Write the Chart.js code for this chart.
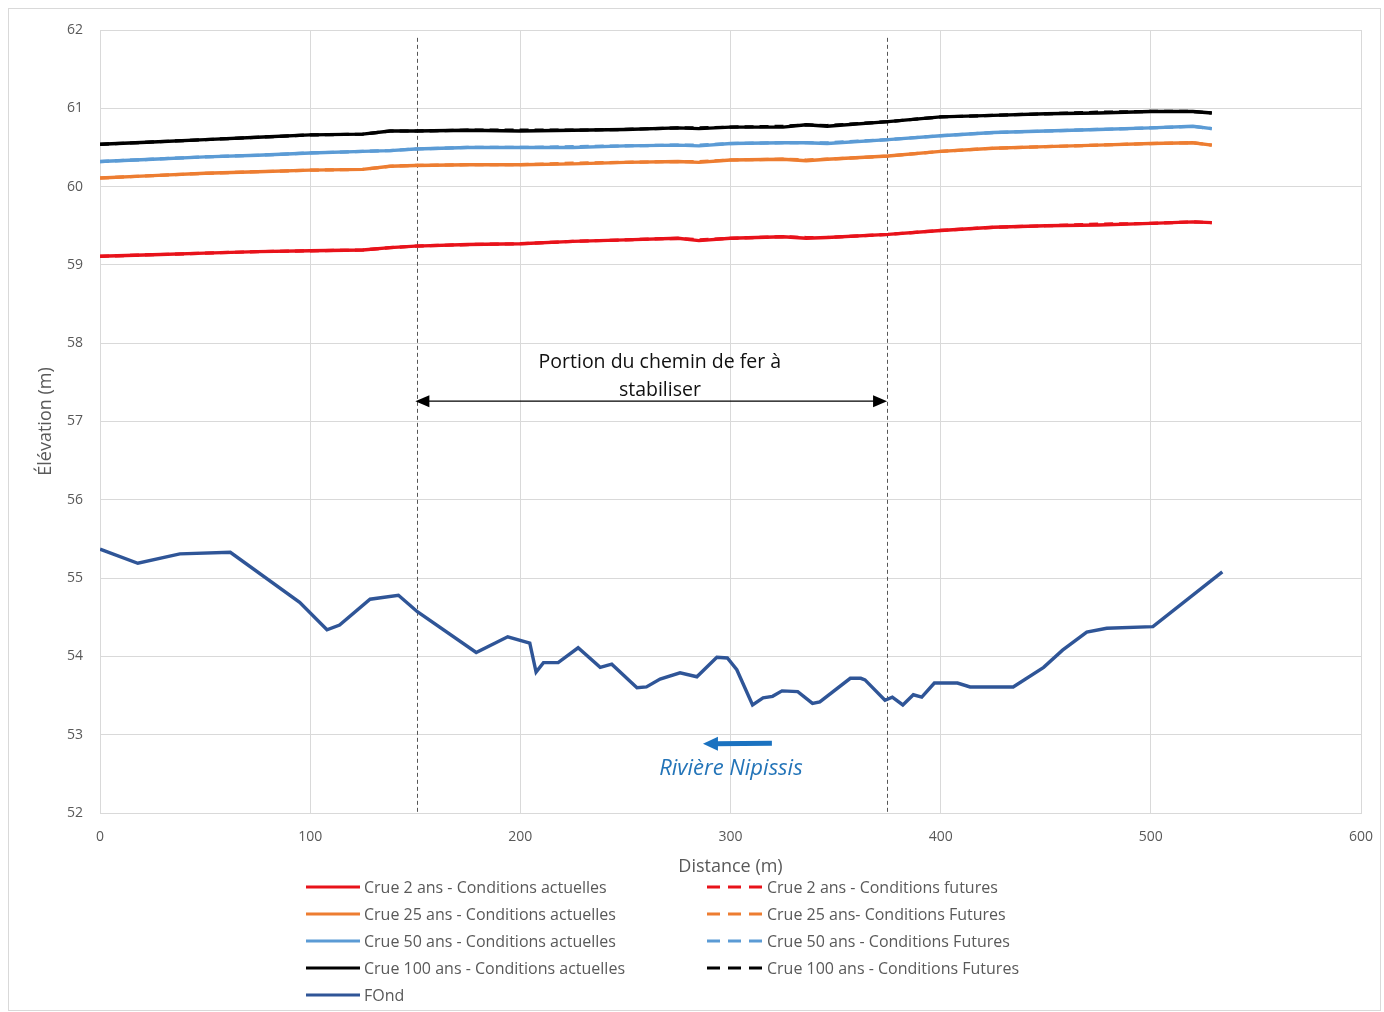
<!DOCTYPE html>
<html><head><meta charset="utf-8">
<script src="https://cdn.jsdelivr.net/npm/chart.js@4/dist/chart.umd.min.js"></script>
<style>
html,body{margin:0;padding:0;background:#fff;}
#wrap{position:relative;width:1384px;height:1012px;overflow:hidden;background:#fff;}
#frame{position:absolute;left:8px;top:8px;width:1373px;height:1003px;border:1px solid #d9d9d9;box-sizing:border-box;}
#c{position:absolute;left:0;top:0;}
.leg{position:absolute;font-family:"Open Sans",sans-serif;font-size:16px;color:#595959;white-space:nowrap;display:flex;align-items:center;height:22px;}
.leg svg{margin-right:4px;display:block;}
</style></head>
<body>
<div id="wrap">
<div id="frame"></div>
<canvas id="c" width="1384" height="1012"></canvas>
<div id="legend"></div>
</div>
<script>
// ---- Data ----
const waterDist = [0, 25, 50, 75, 100, 125, 138, 150, 175, 200, 225, 250, 275, 285, 300, 325, 336, 346, 375, 400, 425, 450, 475, 500, 520, 529];
const crue2Actuel   = [59.11, 59.13, 59.15, 59.17, 59.18, 59.19, 59.22, 59.24, 59.26, 59.27, 59.30, 59.32, 59.34, 59.31, 59.34, 59.36, 59.34, 59.35, 59.39, 59.44, 59.48, 59.50, 59.51, 59.53, 59.55, 59.54];
const crue2Futur    = [59.11, 59.13, 59.15, 59.17, 59.18, 59.19, 59.22, 59.24, 59.26, 59.27, 59.30, 59.32, 59.34, 59.32, 59.34, 59.36, 59.35, 59.35, 59.39, 59.44, 59.48, 59.50, 59.52, 59.53, 59.55, 59.54];
const crue25Actuel  = [60.11, 60.14, 60.17, 60.19, 60.21, 60.22, 60.26, 60.27, 60.28, 60.28, 60.29, 60.31, 60.32, 60.31, 60.34, 60.35, 60.33, 60.35, 60.39, 60.45, 60.49, 60.51, 60.53, 60.55, 60.56, 60.53];
const crue25Futur   = [60.11, 60.14, 60.17, 60.19, 60.21, 60.22, 60.26, 60.27, 60.28, 60.28, 60.30, 60.31, 60.32, 60.32, 60.34, 60.35, 60.34, 60.35, 60.39, 60.45, 60.49, 60.51, 60.53, 60.55, 60.56, 60.53];
const crue50Actuel  = [60.32, 60.35, 60.38, 60.40, 60.43, 60.45, 60.46, 60.48, 60.50, 60.50, 60.50, 60.52, 60.53, 60.52, 60.55, 60.56, 60.56, 60.55, 60.60, 60.65, 60.69, 60.71, 60.73, 60.75, 60.77, 60.74];
const crue50Futur   = [60.32, 60.35, 60.38, 60.40, 60.43, 60.45, 60.46, 60.48, 60.50, 60.50, 60.51, 60.52, 60.53, 60.53, 60.55, 60.56, 60.56, 60.56, 60.60, 60.65, 60.69, 60.71, 60.73, 60.75, 60.77, 60.74];
const crue100Actuel = [60.54, 60.57, 60.60, 60.63, 60.66, 60.67, 60.71, 60.71, 60.72, 60.71, 60.72, 60.73, 60.75, 60.74, 60.76, 60.76, 60.79, 60.77, 60.83, 60.89, 60.91, 60.93, 60.94, 60.96, 60.96, 60.94];
const crue100Futur  = [60.54, 60.57, 60.60, 60.63, 60.66, 60.67, 60.71, 60.71, 60.72, 60.72, 60.72, 60.73, 60.75, 60.75, 60.76, 60.77, 60.79, 60.78, 60.83, 60.89, 60.91, 60.93, 60.95, 60.96, 60.96, 60.94];

const fondDist = [0, 18, 38, 62, 95, 108, 114, 128.5, 142, 151, 179, 194, 204.5, 207.5, 211, 218, 227.5, 238, 243.5, 255.5, 260, 266.5, 276, 284, 293.5, 298.5, 303, 310.5, 315.5, 320, 324.5, 332, 339, 342.5, 357, 362, 364, 373.5, 377, 382, 387, 391, 397, 403.5, 408, 414, 434.5, 449, 458, 469.5, 479, 501, 534];
const fondElev = [55.37, 55.19, 55.31, 55.33, 54.69, 54.34, 54.40, 54.73, 54.78, 54.57, 54.05, 54.25, 54.17, 53.80, 53.92, 53.92, 54.11, 53.86, 53.90, 53.60, 53.61, 53.71, 53.79, 53.74, 53.99, 53.98, 53.83, 53.38, 53.47, 53.49, 53.56, 53.55, 53.40, 53.42, 53.72, 53.72, 53.70, 53.44, 53.48, 53.38, 53.51, 53.48, 53.66, 53.66, 53.66, 53.61, 53.61, 53.86, 54.08, 54.31, 54.36, 54.38, 55.08];

const xTicks = [0, 100, 200, 300, 400, 500, 600];
const yTicks = [52, 53, 54, 55, 56, 57, 58, 59, 60, 61, 62];

const seriesLabels = {
  c2a: "Crue 2 ans - Conditions actuelles",
  c25a: "Crue 25 ans - Conditions actuelles",
  c50a: "Crue 50 ans - Conditions actuelles",
  c100a: "Crue 100 ans - Conditions actuelles",
  fond: "FOnd",
  c2f: "Crue 2 ans - Conditions futures",
  c25f: "Crue 25 ans- Conditions Futures",
  c50f: "Crue 50 ans - Conditions Futures",
  c100f: "Crue 100 ans - Conditions Futures"
};

// Annotations (data coordinates)
const zoneBounds = [151, 374.5];
const zoneTop = 61.9;
const zoneArrowY = 57.26;
const zoneLabel = ["Portion du chemin de fer à", "stabiliser"];
const zoneLabelPos = {x: 266.4, y: [57.76, 57.40]};
const riverLabel = "Rivière Nipissis";
const riverArrow = {from: 319.7, to: 286.9, y: 52.89};
const riverLabelPos = {x: 300.2, y: 52.56};

// ---- Styles ----
const RED = '#e8121a', ORANGE = '#ed7d31', BLUE = '#5b9bd5', BLACK = '#000000', FOND = '#2f5597';
const GRAY = '#595959';

function pts(xs, ys){ return xs.map((x,i)=>({x:x, y:ys[i]})); }

function ds(key, xs, ys, color, dashed){
  return {label: seriesLabels[key], data: pts(xs, ys), borderColor: color, backgroundColor: color,
    borderWidth: dashed ? 3.2 : 3.4, pointRadius: 0, tension: 0, borderDash: dashed ? [9,6] : [], fill:false, _dashed: !!dashed};
}

const datasets = [
  ds('c2a', waterDist, crue2Actuel, RED, false),
  ds('c25a', waterDist, crue25Actuel, ORANGE, false),
  ds('c50a', waterDist, crue50Actuel, BLUE, false),
  ds('c100a', waterDist, crue100Actuel, BLACK, false),
  ds('c2f', waterDist, crue2Futur, RED, true),
  ds('c25f', waterDist, crue25Futur, ORANGE, true),
  ds('c50f', waterDist, crue50Futur, BLUE, true),
  ds('c100f', waterDist, crue100Futur, BLACK, true),
  ds('fond', fondDist, fondElev, FOND, false)
];

function arrowHead(ctx, tipX, tipY, dir, len, half){
  ctx.beginPath();
  ctx.moveTo(tipX, tipY);
  ctx.lineTo(tipX - dir*len, tipY - half);
  ctx.lineTo(tipX - dir*len, tipY + half);
  ctx.closePath();
  ctx.fill();
}

const annotPlugin = {
  id: 'annot',
  beforeDatasetsDraw(chart){
    const {ctx, scales:{x, y}} = chart;
    ctx.save();
    ctx.strokeStyle = '#555555'; ctx.lineWidth = 1; ctx.setLineDash([4,3]);
    for (const d of zoneBounds){
      const px = Math.round(x.getPixelForValue(d)) + 0.5;
      ctx.beginPath(); ctx.moveTo(px, y.getPixelForValue(zoneTop)); ctx.lineTo(px, y.getPixelForValue(52)); ctx.stroke();
    }
    ctx.restore();
  },
  afterDatasetsDraw(chart){
    const {ctx, scales:{x, y}} = chart;
    ctx.save();
    // double arrow
    const ay = y.getPixelForValue(zoneArrowY);
    const ax1 = x.getPixelForValue(zoneBounds[0]) - 2, ax2 = x.getPixelForValue(zoneBounds[1]);
    ctx.strokeStyle = '#000'; ctx.fillStyle = '#000'; ctx.lineWidth = 1.4;
    ctx.beginPath(); ctx.moveTo(ax1 + 10, ay); ctx.lineTo(ax2 - 10, ay); ctx.stroke();
    arrowHead(ctx, ax1, ay, -1, 14, 6);
    arrowHead(ctx, ax2, ay, 1, 14, 6);
    // zone label
    ctx.font = '19.5px "Open Sans"'; ctx.fillStyle = '#111111'; ctx.textAlign = 'center'; ctx.textBaseline = 'middle';
    zoneLabel.forEach((t,i)=> ctx.fillText(t, x.getPixelForValue(zoneLabelPos.x), y.getPixelForValue(zoneLabelPos.y[i])));
    // river arrow
    const ry = y.getPixelForValue(riverArrow.y);
    const rx1 = x.getPixelForValue(riverArrow.from), rx2 = x.getPixelForValue(riverArrow.to);
    ctx.strokeStyle = '#1b72c0'; ctx.fillStyle = '#1b72c0'; ctx.lineWidth = 5;
    ctx.beginPath(); ctx.moveTo(rx1, ry); ctx.lineTo(rx2 + 12, ry + 0.5); ctx.stroke();
    arrowHead(ctx, rx2, ry + 0.5, -1, 15, 7);
    ctx.font = 'italic 22px "Open Sans"'; ctx.fillStyle = '#2374b8';
    ctx.fillText(riverLabel, x.getPixelForValue(riverLabelPos.x), y.getPixelForValue(riverLabelPos.y));
    ctx.restore();
  }
};

new Chart(document.getElementById('c'), {
  type: 'line',
  data: {datasets},
  plugins: [annotPlugin],
  options: {
    responsive: false, animation: false,
    layout: {padding: {left: 20, top: 30, right: 23, bottom: 130}},
    plugins: {legend: {display: false}, tooltip: {enabled: false}},
    scales: {
      x: {type: 'linear', min: 0, max: 600,
        afterBuildTicks: s => { s.ticks = xTicks.map(v => ({value: v})); },
        afterFit: s => { s.height = 69; s.paddingLeft = 0; s.paddingRight = 0; },
        grid: {color: '#d9d9d9', drawTicks: false, lineWidth: 1},
        border: {color: '#d9d9d9'},
        ticks: {padding: 16, color: GRAY, font: {family: 'Open Sans', size: 14}},
        title: {display: true, text: 'Distance (m)', color: GRAY, font: {family: 'Open Sans', size: 18, lineHeight: 1.2}, padding: {top: 0, bottom: 4}}
      },
      y: {type: 'linear', min: 52, max: 62,
        afterBuildTicks: s => { s.ticks = yTicks.map(v => ({value: v})); },
        afterFit: s => { s.width = 80; s.paddingTop = 0; s.paddingBottom = 0; },
        grid: {color: '#d9d9d9', drawTicks: false, lineWidth: 1},
        border: {color: '#d9d9d9'},
        ticks: {padding: 17, color: GRAY, font: {family: 'Open Sans', size: 14}},
        title: {display: true, text: 'Élévation (m)', color: GRAY, font: {family: 'Open Sans', size: 18, lineHeight: 1.2}, padding: {top: 15, bottom: 0}}
      }
    }
  }
});

// ---- HTML legend ----
const legendLayout = [
  {key:'c2a', col:0, row:0}, {key:'c25a', col:0, row:1}, {key:'c50a', col:0, row:2}, {key:'c100a', col:0, row:3}, {key:'fond', col:0, row:4},
  {key:'c2f', col:1, row:0}, {key:'c25f', col:1, row:1}, {key:'c50f', col:1, row:2}, {key:'c100f', col:1, row:3}
];
const colLeft = [306, 707], colSample = [54, 56], rowTop = [876, 903, 930, 957, 984];
const legendEl = document.getElementById('legend');
legendLayout.forEach(item => {
  const d = datasets.find(s => s.label === seriesLabels[item.key]);
  const div = document.createElement('div');
  div.className = 'leg';
  div.style.left = colLeft[item.col] + 'px';
  div.style.top = rowTop[item.row] + 'px';
  const w = colSample[item.col];
  const dash = d._dashed ? 'stroke-dasharray="13 8"' : '';
  div.innerHTML = `<svg width="${w}" height="6"><line x1="0" y1="3" x2="${w}" y2="3" stroke="${d.borderColor}" stroke-width="3" ${dash}/></svg><span>${d.label}</span>`;
  legendEl.appendChild(div);
});
</script>
</body></html>
